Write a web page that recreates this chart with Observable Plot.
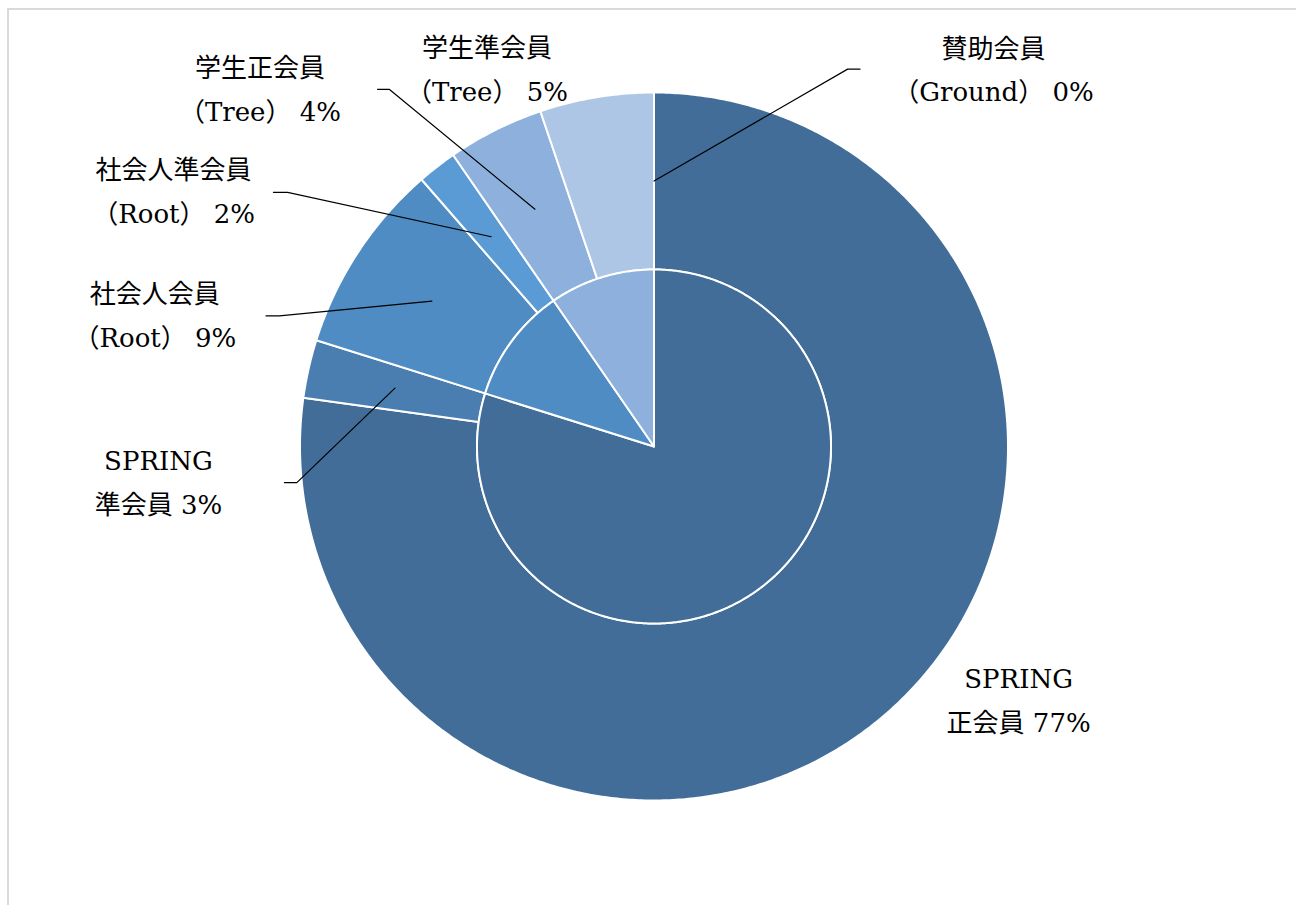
<!DOCTYPE html>
<html>
<head>
<meta charset="utf-8">
<script src="https://cdn.jsdelivr.net/npm/d3@7"></script>
<script src="https://cdn.jsdelivr.net/npm/@observablehq/plot@0.6"></script>
<style>
  html, body { margin: 0; padding: 0; background: #ffffff; overflow: hidden; width: 1296px; height: 905px; }
  #frame { position: absolute; left: 7px; top: 8px; width: 1400px; height: 1000px; border: 2px solid #d9d9d9; box-sizing: border-box; }
  #chart { position: absolute; left: 0; top: 0; }
</style>
</head>
<body>
<div id="frame"></div>
<div id="chart"></div>
<script>
// ---- data (clockwise from 12 o'clock) ----
const outerNames   = ["正会員", "準会員", "社会人会員", "社会人準会員", "学生正会員", "学生準会員", "賛助会員"];
const outerGroups  = ["SPRING", "SPRING", "Root", "Root", "Tree", "Tree", "Ground"];
const outerValues  = [77.2, 2.65, 8.75, 1.8, 4.4, 5.2, 0];
const outerColors  = ["#416D98", "#4A7DB0", "#4F8CC3", "#5B9BD5", "#8DB1DC", "#ADC6E5", "#C9D9EF"];

const innerCategories = ["SPRING", "Root", "Tree", "Ground"];
const innerValues     = [79.85, 10.55, 9.6, 0];
const innerColors     = ["#416D98", "#4F8CC3", "#8DB1DC", "#ADC6E5"];

// ---- layout (in units of the outer radius; centre = 0,0) ----
const innerRadius = 0.5;
const ringMid = (1 + innerRadius) / 2;
// label centre x, baseline y of the last line, optional leader stub [xStart, xElbow, y]
const labelLayout = [
  { x:  1.030, y: -0.8056, stub: null },
  { x: -1.400, y: -0.1907, stub: [-1.044, -1.009, -0.102] },
  { x: -1.410, y:  0.2819, stub: [-1.096, -1.058,  0.369] },
  { x: -1.357, y:  0.6305, stub: [-1.075, -1.035,  0.718] },
  { x: -1.113, y:  0.9195, stub: [-0.781, -0.748,  1.009] },
  { x: -0.472, y:  0.9774, stub: null },
  { x:  0.959, y:  0.9746, stub: [ 0.582,  0.547,  1.066] }
];

// ---- geometry from values ----
const TAU = 2 * Math.PI;
function arcPts(r, a0, a1) {
  const n = Math.max(2, Math.ceil((a1 - a0) / (Math.PI / 360)));
  return d3.range(n + 1).map(i => {
    const a = a0 + (a1 - a0) * i / n;
    return { x: r * Math.sin(a), y: r * Math.cos(a) };
  });
}
function angles(values) {
  const total = d3.sum(values);
  let acc = 0;
  return values.map(v => { const a0 = acc / total * TAU; acc += v; return [a0, acc / total * TAU]; });
}
const outerAngles = angles(outerValues);
const innerAngles = angles(innerValues);

const outerSlices = outerValues.map((v, i) => {
  const [a0, a1] = outerAngles[i];
  return { v, color: outerColors[i],
    pts: arcPts(1, a0, a1).concat(arcPts(innerRadius, a0, a1).reverse()) };
}).filter(d => d.v > 0);

const innerSlices = innerValues.map((v, i) => {
  const [a0, a1] = innerAngles[i];
  return { v, color: innerColors[i], pts: [{ x: 0, y: 0 }].concat(arcPts(innerRadius, a0, a1)) };
}).filter(d => d.v > 0);

const fmt = d3.format(".0f");
const labels = outerValues.map((v, i) => {
  const pct = fmt(v) + "%";
  const text = outerGroups[i] === "SPRING"
    ? "SPRING\n" + outerNames[i] + " " + pct
    : outerNames[i] + "\n（" + outerGroups[i] + "） " + pct;
  return { x: labelLayout[i].x, y: labelLayout[i].y, text };
});

const leaders = [];
outerValues.forEach((v, i) => {
  const s = labelLayout[i].stub;
  if (!s) return;
  const [a0, a1] = outerAngles[i];
  const m = (a0 + a1) / 2;
  leaders.push({ id: i, x: s[0], y: s[2] });
  leaders.push({ id: i, x: s[1], y: s[2] });
  leaders.push({ id: i, x: ringMid * Math.sin(m), y: ringMid * Math.cos(m) });
});

const cx = 653.5, cy = 446, R = 354;
const chart = Plot.plot({
  width: 1296,
  height: 905,
  margin: 0,
  x: { domain: [-1, 1], range: [cx - R, cx + R], axis: null },
  y: { domain: [-1, 1], range: [cy + R, cy - R], axis: null },
  style: { background: "transparent" },
  marks: [
    ...outerSlices.map(s => Plot.line(s.pts, { x: "x", y: "y", fill: s.color, stroke: "#ffffff", strokeWidth: 2, curve: "linear-closed" })),
    ...innerSlices.map(s => Plot.line(s.pts, { x: "x", y: "y", fill: s.color, stroke: "#ffffff", strokeWidth: 2, curve: "linear-closed" })),
    Plot.line(leaders, { x: "x", y: "y", z: "id", stroke: "#000000", strokeWidth: 1.2, curve: "linear" }),
    Plot.text(labels, {
      x: "x", y: "y", text: "text",
      fontSize: 26, lineHeight: 1.69, lineAnchor: "bottom", textAnchor: "middle",
      fill: "#000000",
      fontFamily: '"DejaVu Serif", "Noto Sans CJK JP", serif'
    })
  ]
});
document.getElementById("chart").appendChild(chart);
</script>
</body>
</html>
